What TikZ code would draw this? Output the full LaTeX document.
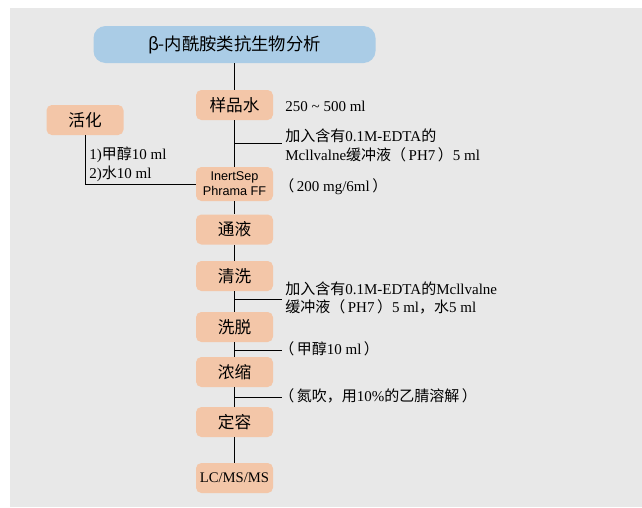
\documentclass[tikz,border=0pt]{standalone}
\usepackage{fontspec}
\setmainfont{Liberation Serif}
\newfontfamily\cjkfont{Noto Sans CJK SC}
\newfontfamily\arialfont{Liberation Sans}
\newcommand\zhs[1]{{\cjkfont #1}}

\definecolor{pagegray}{RGB}{232,232,232}
\definecolor{titleblue}{RGB}{170,204,230}
\definecolor{boxpeach}{RGB}{243,198,168}

\tikzset{every picture/.style={line width=0.6pt}}
\tikzset{
  stepbox/.style={fill=boxpeach, rounded corners=4pt, minimum width=57.75pt, minimum height=22.5pt, inner sep=0pt, font=\cjkfont\fontsize{12.5}{14}\selectfont},
  titlebox/.style={fill=titleblue, rounded corners=9pt, minimum width=211.5pt, minimum height=27.75pt, inner sep=0pt, font=\cjkfont\fontsize{13}{15}\selectfont},
  notetext/.style={anchor=west, align=left, inner sep=0pt, font=\fontsize{11.25}{14}\selectfont},
}

\begin{document}
\begin{tikzpicture}[x=0.75pt,y=0.75pt,yscale=-1,xscale=1]
\useasboundingbox (0,0) rectangle (642,507);
%Shape: Rectangle [id:background]
\fill [pagegray] (10,8) rectangle (642,507);

% Title Node
\node [titlebox] (title) at (234.5,44.5) {β-内酰胺类抗生物分析};

% Step Nodes
\node [stepbox] (sample) at (234.5,105) {样品水};
\node [stepbox] (activate) at (85,120) {活化};
\node [stepbox, minimum height=25.5pt, font=\arialfont\fontsize{9.5}{11.25}\selectfont, align=center] (inertsep) at (234.5,184) {InertSep\\Phrama FF};
\node [stepbox] (load) at (234.5,229.5) {通液};
\node [stepbox] (wash) at (234.5,276) {清洗};
\node [stepbox] (elute) at (234.5,327) {洗脱};
\node [stepbox] (concentrate) at (234.5,372) {浓缩};
\node [stepbox] (volume) at (234.5,422) {定容};
\node [stepbox, font=\fontsize{11}{13}\selectfont] (lcms) at (234.5,478) {LC/MS/MS};

% Text Node
\node [notetext] (volnote) at (285,106) {250 \textasciitilde\ 500 ml};
% Text Node
\node [notetext] (buffernote) at (285,145.5) {\zhs{加入含有}0.1M-EDTA\zhs{的}\\Mcllvalne\zhs{缓冲液（}\,PH7\,\zhs{）}5 ml};
% Text Node
\node [notetext] (cartnote) at (279,187) {\zhs{（}\,200 mg/6ml\,\zhs{）}};
% Text Node
\node [notetext] (activnote) at (89,164) {1)\zhs{甲醇}10 ml\\2)\zhs{水}10 ml};
% Text Node
\node [notetext] (washnote) at (285,298) {\zhs{加入含有}0.1M-EDTA\zhs{的}Mcllvalne\\\zhs{缓冲液（}\,PH7\,\zhs{）}5 ml\zhs{，水}5 ml};
% Text Node
\node [notetext] (elutenote) at (279,349) {\zhs{（}\,\zhs{甲醇}10 ml\,\zhs{）}};
% Text Node
\node [notetext] (dissolvenote) at (279,396) {\zhs{（}\,\zhs{氮吹，用}10\%\zhs{的乙腈溶解}\,\zhs{）}};

% Branch points
\coordinate (b1) at (234.5,143);
\coordinate (b1e) at (282,143);
\coordinate (b2) at (234.5,299);
\coordinate (b2e) at (282,299);
\coordinate (b3) at (234.5,350);
\coordinate (b3e) at (282,350);
\coordinate (b4) at (234.5,397);
\coordinate (b4e) at (282,397);

%Straight Lines
\draw (title) -- (sample);
\draw (sample) -- (inertsep);
\draw (inertsep) -- (load);
\draw (load) -- (wash);
\draw (wash) -- (elute);
\draw (elute) -- (concentrate);
\draw (concentrate) -- (volume);
\draw (volume) -- (lcms);
\draw (activate.south) |- (inertsep.west);
\draw (b1) -- (b1e);
\draw (b2) -- (b2e);
\draw (b3) -- (b3e);
\draw (b4) -- (b4e);

\end{tikzpicture}
\end{document}
